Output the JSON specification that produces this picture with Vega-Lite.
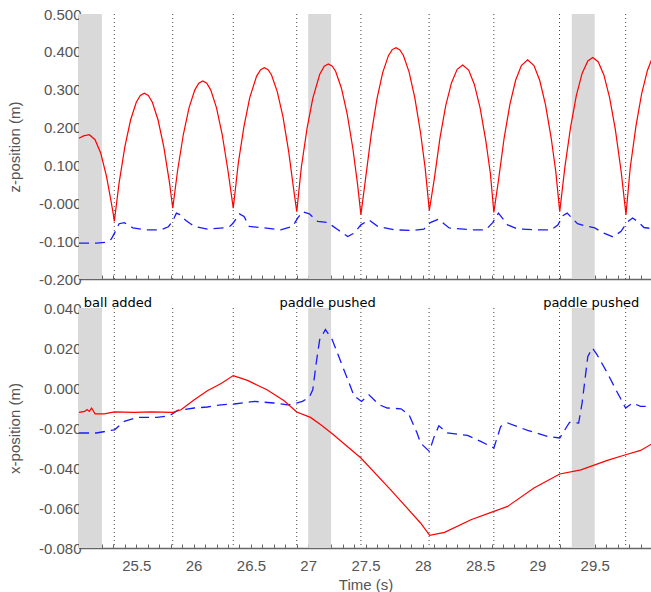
{
  "$schema": "https://vega.github.io/schema/vega-lite/v6.json",
  "padding": {"top": 7, "left": 7, "right": 0, "bottom": 0},
  "background": "white",
  "spacing": 29,
  "bounds": "flush",
  "datasets": {
    "bands": [{"t": 25.0, "t2": 25.2}, {"t": 27.0, "t2": 27.2}, {"t": 29.3, "t2": 29.5}],
    "bounces": [{"t": 25.308}, {"t": 25.818}, {"t": 26.346}, {"t": 26.9}, {"t": 27.46}, {"t": 28.055}, {"t": 28.62}, {"t": 29.193}, {"t": 29.77}],
    "notes": [{"t": 25.34, "label": "ball added"}, {"t": 27.17, "label": "paddle pushed"}, {"t": 29.47, "label": "paddle pushed"}],
    "z_ball": [
      {"t": 25.0, "v": 0.172}, {"t": 25.04, "v": 0.178}, {"t": 25.09, "v": 0.181}, {"t": 25.14, "v": 0.168}, {"t": 25.19, "v": 0.132}, {"t": 25.24, "v": 0.071}, {"t": 25.28, "v": 0.005}, {"t": 25.3, "v": -0.03}, {"t": 25.308, "v": -0.048},
      {"t": 25.35, "v": 0.054}, {"t": 25.4, "v": 0.149}, {"t": 25.45, "v": 0.22}, {"t": 25.5, "v": 0.267}, {"t": 25.535, "v": 0.285}, {"t": 25.57, "v": 0.291}, {"t": 25.605, "v": 0.285}, {"t": 25.64, "v": 0.267}, {"t": 25.69, "v": 0.22}, {"t": 25.74, "v": 0.149}, {"t": 25.79, "v": 0.054}, {"t": 25.818, "v": -0.013},
      {"t": 25.86, "v": 0.086}, {"t": 25.91, "v": 0.181}, {"t": 25.96, "v": 0.252}, {"t": 26.01, "v": 0.299}, {"t": 26.045, "v": 0.317}, {"t": 26.08, "v": 0.323}, {"t": 26.115, "v": 0.317}, {"t": 26.15, "v": 0.299}, {"t": 26.2, "v": 0.252}, {"t": 26.25, "v": 0.181}, {"t": 26.3, "v": 0.086}, {"t": 26.346, "v": -0.013},
      {"t": 26.39, "v": 0.106}, {"t": 26.44, "v": 0.204}, {"t": 26.49, "v": 0.279}, {"t": 26.55, "v": 0.336}, {"t": 26.585, "v": 0.353}, {"t": 26.617, "v": 0.358}, {"t": 26.65, "v": 0.353}, {"t": 26.68, "v": 0.339}, {"t": 26.73, "v": 0.295}, {"t": 26.78, "v": 0.228}, {"t": 26.83, "v": 0.136}, {"t": 26.87, "v": 0.044}, {"t": 26.9, "v": -0.022},
      {"t": 26.94, "v": 0.095}, {"t": 26.99, "v": 0.198}, {"t": 27.04, "v": 0.277}, {"t": 27.1, "v": 0.34}, {"t": 27.14, "v": 0.362}, {"t": 27.176, "v": 0.368}, {"t": 27.21, "v": 0.362}, {"t": 27.24, "v": 0.348}, {"t": 27.29, "v": 0.304}, {"t": 27.34, "v": 0.236}, {"t": 27.39, "v": 0.144}, {"t": 27.43, "v": 0.052}, {"t": 27.46, "v": -0.03},
      {"t": 27.5, "v": 0.064}, {"t": 27.55, "v": 0.182}, {"t": 27.6, "v": 0.276}, {"t": 27.65, "v": 0.345}, {"t": 27.7, "v": 0.39}, {"t": 27.733, "v": 0.406}, {"t": 27.766, "v": 0.411}, {"t": 27.8, "v": 0.405}, {"t": 27.83, "v": 0.391}, {"t": 27.88, "v": 0.347}, {"t": 27.93, "v": 0.279}, {"t": 27.98, "v": 0.187}, {"t": 28.02, "v": 0.095}, {"t": 28.057, "v": -0.019},
      {"t": 28.1, "v": 0.064}, {"t": 28.15, "v": 0.173}, {"t": 28.2, "v": 0.258}, {"t": 28.25, "v": 0.318}, {"t": 28.3, "v": 0.354}, {"t": 28.348, "v": 0.365}, {"t": 28.4, "v": 0.352}, {"t": 28.45, "v": 0.314}, {"t": 28.5, "v": 0.252}, {"t": 28.55, "v": 0.165}, {"t": 28.59, "v": 0.078}, {"t": 28.62, "v": -0.024},
      {"t": 28.66, "v": 0.06}, {"t": 28.71, "v": 0.173}, {"t": 28.76, "v": 0.261}, {"t": 28.81, "v": 0.325}, {"t": 28.86, "v": 0.364}, {"t": 28.915, "v": 0.379}, {"t": 28.97, "v": 0.364}, {"t": 29.02, "v": 0.325}, {"t": 29.07, "v": 0.261}, {"t": 29.12, "v": 0.173}, {"t": 29.16, "v": 0.085}, {"t": 29.195, "v": -0.022},
      {"t": 29.24, "v": 0.096}, {"t": 29.29, "v": 0.202}, {"t": 29.34, "v": 0.285}, {"t": 29.39, "v": 0.343}, {"t": 29.44, "v": 0.376}, {"t": 29.483, "v": 0.385}, {"t": 29.53, "v": 0.374}, {"t": 29.58, "v": 0.339}, {"t": 29.63, "v": 0.279}, {"t": 29.68, "v": 0.195}, {"t": 29.73, "v": 0.086}, {"t": 29.773, "v": -0.03},
      {"t": 29.81, "v": 0.094}, {"t": 29.86, "v": 0.204}, {"t": 29.91, "v": 0.29}, {"t": 29.96, "v": 0.351}, {"t": 30.0, "v": 0.382}
    ],
    "z_paddle": [
      {"t": 25.0, "v": -0.105}, {"t": 25.06, "v": -0.105}, {"t": 25.15, "v": -0.105}, {"t": 25.24, "v": -0.103}, {"t": 25.28, "v": -0.095}, {"t": 25.31, "v": -0.079}, {"t": 25.35, "v": -0.054}, {"t": 25.395, "v": -0.051}, {"t": 25.47, "v": -0.065}, {"t": 25.57, "v": -0.07}, {"t": 25.716, "v": -0.07}, {"t": 25.78, "v": -0.062}, {"t": 25.8, "v": -0.054}, {"t": 25.83, "v": -0.039}, {"t": 25.85, "v": -0.026}, {"t": 25.88, "v": -0.03}, {"t": 25.93, "v": -0.045}, {"t": 26.006, "v": -0.061}, {"t": 26.12, "v": -0.068}, {"t": 26.27, "v": -0.065}, {"t": 26.32, "v": -0.06}, {"t": 26.346, "v": -0.052}, {"t": 26.4, "v": -0.028}, {"t": 26.44, "v": -0.035}, {"t": 26.486, "v": -0.061}, {"t": 26.62, "v": -0.065}, {"t": 26.76, "v": -0.07}, {"t": 26.865, "v": -0.061}, {"t": 26.908, "v": -0.039}, {"t": 26.95, "v": -0.022}, {"t": 27.01, "v": -0.028}, {"t": 27.083, "v": -0.048}, {"t": 27.17, "v": -0.051}, {"t": 27.26, "v": -0.07}, {"t": 27.345, "v": -0.088}, {"t": 27.4, "v": -0.079}, {"t": 27.46, "v": -0.057}, {"t": 27.53, "v": -0.044}, {"t": 27.606, "v": -0.061}, {"t": 27.75, "v": -0.07}, {"t": 27.9, "v": -0.072}, {"t": 28.01, "v": -0.068}, {"t": 28.065, "v": -0.051}, {"t": 28.135, "v": -0.042}, {"t": 28.23, "v": -0.065}, {"t": 28.42, "v": -0.07}, {"t": 28.55, "v": -0.07}, {"t": 28.61, "v": -0.051}, {"t": 28.66, "v": -0.026}, {"t": 28.74, "v": -0.057}, {"t": 28.83, "v": -0.068}, {"t": 28.97, "v": -0.07}, {"t": 29.12, "v": -0.07}, {"t": 29.18, "v": -0.057}, {"t": 29.22, "v": -0.033}, {"t": 29.26, "v": -0.026}, {"t": 29.35, "v": -0.054}, {"t": 29.41, "v": -0.059}, {"t": 29.5, "v": -0.065}, {"t": 29.58, "v": -0.079}, {"t": 29.66, "v": -0.089}, {"t": 29.73, "v": -0.074}, {"t": 29.78, "v": -0.051}, {"t": 29.83, "v": -0.039}, {"t": 29.875, "v": -0.048}, {"t": 29.93, "v": -0.064}, {"t": 30.0, "v": -0.067}
    ],
    "x_ball": [
      {"t": 25.0, "v": -0.0122}, {"t": 25.05, "v": -0.0117}, {"t": 25.07, "v": -0.0108}, {"t": 25.09, "v": -0.0117}, {"t": 25.11, "v": -0.01}, {"t": 25.14, "v": -0.0129}, {"t": 25.22, "v": -0.0129}, {"t": 25.31, "v": -0.0119}, {"t": 25.48, "v": -0.0122}, {"t": 25.63, "v": -0.0119}, {"t": 25.818, "v": -0.0122}, {"t": 25.89, "v": -0.0109}, {"t": 26.006, "v": -0.0059}, {"t": 26.12, "v": -0.0014}, {"t": 26.24, "v": 0.0022}, {"t": 26.346, "v": 0.0062}, {"t": 26.47, "v": 0.0038}, {"t": 26.64, "v": -0.0009}, {"t": 26.79, "v": -0.0064}, {"t": 26.9, "v": -0.012}, {"t": 27.02, "v": -0.0147}, {"t": 27.11, "v": -0.0184}, {"t": 27.21, "v": -0.0229}, {"t": 27.46, "v": -0.035}, {"t": 27.72, "v": -0.0509}, {"t": 27.98, "v": -0.0675}, {"t": 28.06, "v": -0.0737}, {"t": 28.19, "v": -0.0722}, {"t": 28.42, "v": -0.0659}, {"t": 28.62, "v": -0.0617}, {"t": 28.74, "v": -0.0592}, {"t": 28.97, "v": -0.05}, {"t": 29.195, "v": -0.043}, {"t": 29.38, "v": -0.0409}, {"t": 29.61, "v": -0.0362}, {"t": 29.77, "v": -0.0334}, {"t": 29.9, "v": -0.0312}, {"t": 30.0, "v": -0.0279}
    ],
    "x_paddle": [
      {"t": 25.0, "v": -0.0225}, {"t": 25.06, "v": -0.0225}, {"t": 25.15, "v": -0.0225}, {"t": 25.31, "v": -0.0209}, {"t": 25.395, "v": -0.0167}, {"t": 25.51, "v": -0.0147}, {"t": 25.68, "v": -0.0147}, {"t": 25.79, "v": -0.0139}, {"t": 25.86, "v": -0.0112}, {"t": 26.006, "v": -0.01}, {"t": 26.12, "v": -0.0095}, {"t": 26.24, "v": -0.0084}, {"t": 26.355, "v": -0.008}, {"t": 26.53, "v": -0.0067}, {"t": 26.7, "v": -0.0075}, {"t": 26.82, "v": -0.0084}, {"t": 26.88, "v": -0.0079}, {"t": 26.95, "v": -0.0067}, {"t": 27.01, "v": -0.0045}, {"t": 27.04, "v": -0.0009}, {"t": 27.07, "v": 0.0125}, {"t": 27.1, "v": 0.0241}, {"t": 27.15, "v": 0.0292}, {"t": 27.21, "v": 0.0241}, {"t": 27.3, "v": 0.0108}, {"t": 27.4, "v": -0.0039}, {"t": 27.465, "v": -0.0067}, {"t": 27.53, "v": -0.0034}, {"t": 27.62, "v": -0.0084}, {"t": 27.69, "v": -0.01}, {"t": 27.81, "v": -0.0104}, {"t": 27.88, "v": -0.0134}, {"t": 27.95, "v": -0.0225}, {"t": 27.98, "v": -0.0275}, {"t": 28.057, "v": -0.0317}, {"t": 28.1, "v": -0.0242}, {"t": 28.14, "v": -0.0189}, {"t": 28.215, "v": -0.0225}, {"t": 28.39, "v": -0.0237}, {"t": 28.505, "v": -0.0267}, {"t": 28.62, "v": -0.03}, {"t": 28.68, "v": -0.0192}, {"t": 28.74, "v": -0.0175}, {"t": 28.915, "v": -0.0212}, {"t": 29.09, "v": -0.0242}, {"t": 29.195, "v": -0.025}, {"t": 29.28, "v": -0.0172}, {"t": 29.36, "v": -0.0175}, {"t": 29.39, "v": -0.0075}, {"t": 29.44, "v": 0.0158}, {"t": 29.48, "v": 0.02}, {"t": 29.52, "v": 0.0167}, {"t": 29.61, "v": 0.0075}, {"t": 29.7, "v": -0.0025}, {"t": 29.77, "v": -0.01}, {"t": 29.83, "v": -0.0075}, {"t": 29.9, "v": -0.0092}, {"t": 30.0, "v": -0.0092}
    ]
  },
  "vconcat": [
    {
      "width": 573,
      "height": 265,
      "encoding": {
        "x": {"field": "t", "type": "quantitative", "scale": {"domain": [25, 30], "nice": false, "zero": false},
          "axis": {"title": null, "labels": false, "labelOverlap": false, "values": [25.0,25.1,25.2,25.3,25.4,25.5,25.6,25.7,25.8,25.9,26.0,26.1,26.2,26.3,26.4,26.5,26.6,26.7,26.8,26.9,27.0,27.1,27.2,27.3,27.4,27.5,27.6,27.7,27.8,27.9,28.0,28.1,28.2,28.3,28.4,28.5,28.6,28.7,28.8,28.9,29.0,29.1,29.2,29.3,29.4,29.5,29.6,29.7,29.8,29.9,30.0]}}
      },
      "layer": [
        {
          "data": {"name": "bands"},
          "mark": {"type": "rect", "color": "#d9d9d9"},
          "encoding": {"x2": {"field": "t2"}}
        },
        {
          "data": {"name": "bounces"},
          "mark": {"type": "rule", "color": "#444444", "strokeDash": [1, 3], "strokeWidth": 1},
          "encoding": {}
        },
        {
          "data": {"name": "z_paddle"},
          "mark": {"type": "line", "color": "#1a1aff", "strokeDash": [10, 6], "strokeWidth": 1.3},
          "encoding": {
            "y": {"field": "v", "type": "quantitative", "scale": {"domain": [-0.2, 0.5], "nice": false, "zero": false},
              "axis": {"title": "z-position (m)", "titlePadding": 16, "labelOverlap": false, "values": [-0.2,-0.15,-0.1,-0.05,0,0.05,0.1,0.15,0.2,0.25,0.3,0.35,0.4,0.45,0.5],
                "labelExpr": "abs(datum.value*10-round(datum.value*10))>0.001 ? '' : (datum.value == 0 ? '-0.000' : replace(format(datum.value, '.3f'), '\u2212', '-'))"}}
          }
        },
        {
          "data": {"name": "z_ball"},
          "mark": {"type": "line", "color": "#ff0000", "strokeWidth": 1.2},
          "encoding": {
            "y": {"field": "v", "type": "quantitative", "scale": {"domain": [-0.2, 0.5], "nice": false, "zero": false},
              "axis": {"title": "z-position (m)", "titlePadding": 16, "labelOverlap": false, "values": [-0.2,-0.15,-0.1,-0.05,0,0.05,0.1,0.15,0.2,0.25,0.3,0.35,0.4,0.45,0.5],
                "labelExpr": "abs(datum.value*10-round(datum.value*10))>0.001 ? '' : (datum.value == 0 ? '-0.000' : replace(format(datum.value, '.3f'), '\u2212', '-'))"}}
          }
        }
      ]
    },
    {
      "width": 573,
      "height": 240,
      "encoding": {
        "x": {"field": "t", "type": "quantitative", "scale": {"domain": [25, 30], "nice": false, "zero": false},
          "axis": {"title": "Time (s)", "labelPadding": 14, "labelOverlap": false, "values": [25.0,25.1,25.2,25.3,25.4,25.5,25.6,25.7,25.8,25.9,26.0,26.1,26.2,26.3,26.4,26.5,26.6,26.7,26.8,26.9,27.0,27.1,27.2,27.3,27.4,27.5,27.6,27.7,27.8,27.9,28.0,28.1,28.2,28.3,28.4,28.5,28.6,28.7,28.8,28.9,29.0,29.1,29.2,29.3,29.4,29.5,29.6,29.7,29.8,29.9,30.0],
            "labelExpr": "(abs(datum.value*2-round(datum.value*2))>0.001 || datum.value < 25.2 || datum.value > 29.8) ? '' : format(datum.value, '~g')"}}
      },
      "layer": [
        {
          "data": {"name": "bands"},
          "mark": {"type": "rect", "color": "#d9d9d9"},
          "encoding": {"x2": {"field": "t2"}}
        },
        {
          "data": {"name": "bounces"},
          "mark": {"type": "rule", "color": "#444444", "strokeDash": [1, 3], "strokeWidth": 1},
          "encoding": {}
        },
        {
          "data": {"name": "x_paddle"},
          "mark": {"type": "line", "color": "#1a1aff", "strokeDash": [10, 6], "strokeWidth": 1.3},
          "encoding": {
            "y": {"field": "v", "type": "quantitative", "scale": {"domain": [-0.08, 0.04], "nice": false, "zero": false},
              "axis": {"title": "x-position (m)", "titlePadding": 16, "labelOverlap": false, "values": [-0.08,-0.07,-0.06,-0.05,-0.04,-0.03,-0.02,-0.01,0,0.01,0.02,0.03,0.04],
                "labelExpr": "abs(datum.value*50-round(datum.value*50))>0.001 ? '' : replace(format(datum.value, '.3f'), '\u2212', '-')"}}
          }
        },
        {
          "data": {"name": "x_ball"},
          "mark": {"type": "line", "color": "#ff0000", "strokeWidth": 1.2},
          "encoding": {
            "y": {"field": "v", "type": "quantitative", "scale": {"domain": [-0.08, 0.04], "nice": false, "zero": false},
              "axis": {"title": "x-position (m)", "titlePadding": 16, "labelOverlap": false, "values": [-0.08,-0.07,-0.06,-0.05,-0.04,-0.03,-0.02,-0.01,0,0.01,0.02,0.03,0.04],
                "labelExpr": "abs(datum.value*50-round(datum.value*50))>0.001 ? '' : replace(format(datum.value, '.3f'), '\u2212', '-')"}}
          }
        },
        {
          "data": {"name": "notes"},
          "mark": {"type": "text", "font": "DejaVu Sans", "fontSize": 13, "color": "#000000", "align": "center", "baseline": "alphabetic", "dy": -1},
          "encoding": {
            "y": {"datum": 0.04, "type": "quantitative", "scale": {"domain": [-0.08, 0.04], "nice": false, "zero": false},
              "axis": {"title": "x-position (m)", "titlePadding": 16, "labelOverlap": false, "values": [-0.08,-0.07,-0.06,-0.05,-0.04,-0.03,-0.02,-0.01,0,0.01,0.02,0.03,0.04],
                "labelExpr": "abs(datum.value*50-round(datum.value*50))>0.001 ? '' : replace(format(datum.value, '.3f'), '\u2212', '-')"}},
            "text": {"field": "label"}
          }
        }
      ]
    }
  ],
  "config": {
    "view": {"stroke": null},
    "axis": {
      "grid": false,
      "domainColor": "#666666",
      "domainWidth": 1.5,
      "tickColor": "#666666",
      "tickSize": -4,
      "labelColor": "#555555",
      "titleColor": "#555555",
      "labelFont": "Liberation Sans",
      "titleFont": "Liberation Sans",
      "labelFontSize": 15,
      "titleFontSize": 15,
      "titleFontWeight": "normal",
      "labelOverlap": false,
      "labelBound": false,
      "labelFlush": false
    }
  }
}
